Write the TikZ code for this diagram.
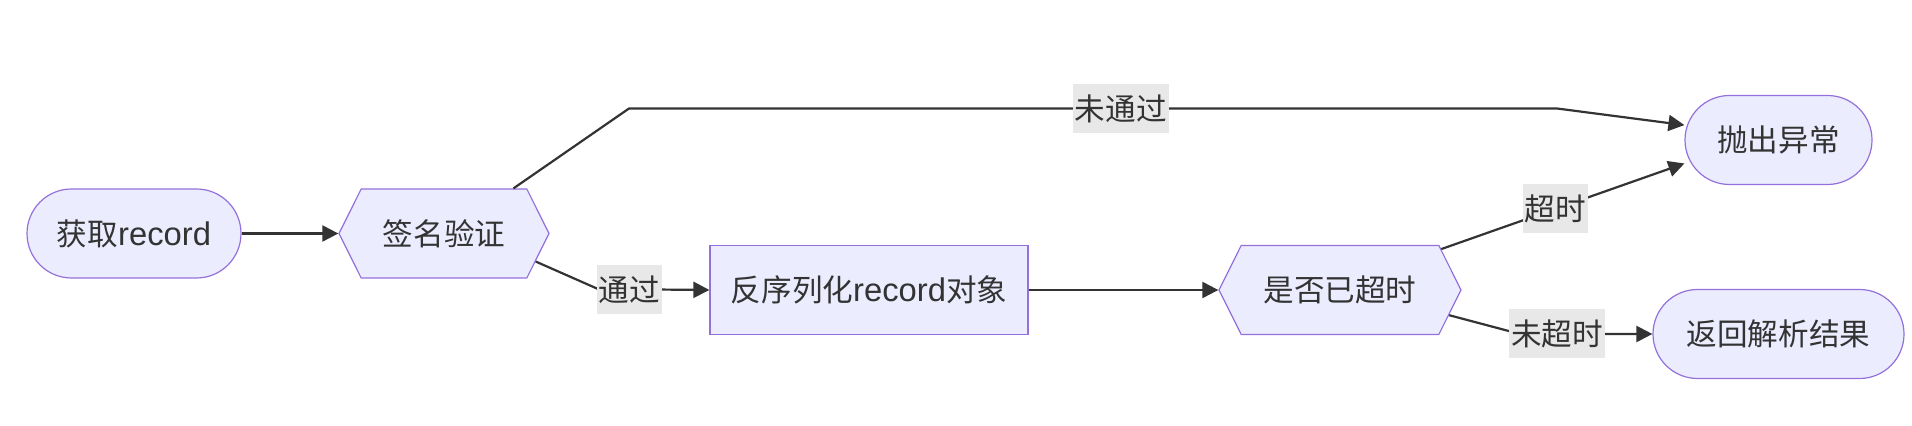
\documentclass[tikz,border=0pt]{standalone}
\usepackage{fontspec}
\setmainfont{Noto Sans CJK SC}
\newfontfamily\latin{Liberation Sans}[Scale=1.07]
\usetikzlibrary{arrows.meta,shapes.symbols}
\definecolor{NodeFill}{HTML}{ECECFF}
\definecolor{NodeLine}{HTML}{9370DB}
\definecolor{EdgeInk}{HTML}{333333}
\definecolor{LabelBg}{HTML}{E8E8E8}

\begin{document}
\begin{tikzpicture}[x=0.5pt,y=-0.5pt,>={Triangle[length=8pt,width=8pt]},
  font=\fontsize{15.3}{18}\selectfont,text=EdgeInk,
  base/.style={draw=NodeLine,fill=NodeFill,line width=0.6pt,minimum height=44.5pt,inner sep=0pt},
  termnode/.style={base,rounded corners=22.25pt},
  stepbox/.style={base},
  checknode/.style={base,signal,signal to=west and east,signal pointer angle=127},
  lbl/.style={fill=LabelBg,inner xsep=1pt,inner ysep=0pt,minimum height=24.5pt},
  flow/.style={->,draw=EdgeInk,line width=1.1pt}]
\useasboundingbox (0,0) rectangle (1912,426);
% nodes
\node[termnode,minimum width=107pt] (fetch) at (134,233.5) {获取{\latin record}};
\node[checknode,minimum width=105pt] (verify) at (444,233.5) {签名验证};
\node[stepbox,minimum width=159pt] (decode) at (869,290) {反序列化{\latin record}对象};
\node[checknode,minimum width=121pt] (expire) at (1340,290) {是否已超时};
\node[termnode,minimum width=93.5pt] (raise) at (1778.5,140) {抛出异常};
\node[termnode,minimum width=125.5pt] (result) at (1778.5,334) {返回解析结果};
% connectors
\draw[flow] (fetch.east) -- (verify.west);
\draw[flow] (verify.33) -- (629,108.5) -- node[lbl,pos=.53]{未通过} (1557,108.5) -- (raise.171);
\draw[flow] (verify.-17) -- (598,289) -- node[lbl,pos=.28]{通过} (decode.west);
\draw[flow] (decode.east) -- (expire.west);
\draw[flow] (expire.22) -- node[lbl,pos=.47]{超时} (raise.194);
\draw[flow] (expire.-13) -- (1520,334) -- node[lbl,pos=.28]{未超时} (result.west);
\end{tikzpicture}
\end{document}
